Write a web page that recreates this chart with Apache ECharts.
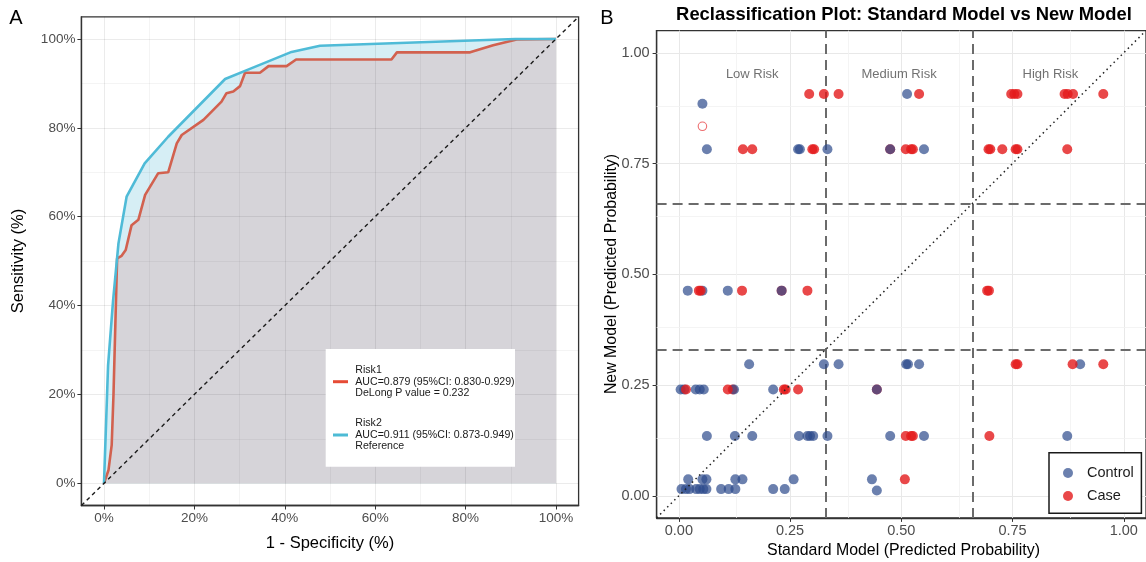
<!DOCTYPE html>
<html><head><meta charset="utf-8">
<script src="https://cdn.jsdelivr.net/npm/echarts@6/dist/echarts.min.js"></script>
<style>html,body{margin:0;padding:0;background:#fff}#c{width:1146px;height:562px}</style>
</head><body><div id="c"></div>
<script>
// ---------- Panel A: ROC curves ([1 - specificity %, sensitivity %]) ----------
const risk1Roc = [[0,0],[1,3],[1.7,8.6],[2.1,20],[2.9,50.6],[3.9,51.2],[4.8,52.5],[6.1,58.1],[7.6,59.3],[9.1,64.9],[12,69.8],[14.2,70],[16.1,76.5],[17.2,78.4],[22,81.8],[26,85.9],[27.1,87.8],[28.6,88.2],[30.1,89.4],[31.2,92.4],[34.5,92.4],[36.4,93.9],[40.4,93.9],[42.5,95.4],[63.6,95.4],[64.8,97],[81,97],[86.1,98.6],[91.3,99.9],[100,100]];
const risk2Roc = [[0,0],[0.9,26.5],[2,41],[3.2,54],[5,64.5],[9,72],[14.2,78],[26.8,91],[31.6,93],[41.5,97.1],[47.8,98.5],[91,100],[100,100]];
const rocTicks = [0,20,40,60,80,100];
const rocMinorTicks = [10,30,50,70,90];
const rocRange = [-5,105];
const risk1Legend = ['Risk1','AUC=0.879 (95%CI: 0.830-0.929)','DeLong P value = 0.232'];
const risk2Legend = ['Risk2','AUC=0.911 (95%CI: 0.873-0.949)','Reference'];

// ---------- Panel B: reclassification ([standard model, new model]) ----------
const controlPoints = [
 [0.513,0.907],
 [0.053,0.885],
 [0.063,0.782],[0.268,0.782],[0.272,0.782],[0.334,0.782],[0.475,0.782],[0.551,0.782],
 [0.020,0.463],[0.053,0.463],[0.110,0.463],[0.231,0.463],
 [0.158,0.297],[0.326,0.297],[0.359,0.297],[0.511,0.297],[0.515,0.297],[0.540,0.297],[0.902,0.297],
 [0.004,0.240],[0.012,0.240],[0.038,0.240],[0.047,0.240],[0.056,0.240],[0.124,0.240],[0.212,0.240],[0.445,0.240],
 [0.063,0.135],[0.126,0.135],[0.165,0.135],[0.270,0.135],[0.289,0.135],[0.295,0.135],[0.302,0.135],[0.334,0.135],[0.475,0.135],[0.551,0.135],[0.873,0.135],
 [0.021,0.037],[0.053,0.037],[0.062,0.037],[0.127,0.037],[0.143,0.037],[0.258,0.037],[0.434,0.037],
 [0.006,0.015],[0.016,0.015],[0.024,0.015],[0.039,0.015],[0.047,0.015],[0.055,0.015],[0.062,0.015],[0.095,0.015],[0.112,0.015],[0.127,0.015],[0.212,0.015],[0.238,0.015],[0.445,0.012]
];
const caseBehindPoints = [[0.475,0.782],[0.231,0.463],[0.121,0.240],[0.445,0.240]];
const casePoints = [
 [0.293,0.907],[0.326,0.907],[0.359,0.907],[0.540,0.907],[0.747,0.907],[0.754,0.907],[0.761,0.907],[0.867,0.907],[0.874,0.907],[0.886,0.907],[0.954,0.907],
 [0.144,0.782],[0.165,0.782],[0.300,0.782],[0.304,0.782],[0.510,0.782],[0.522,0.782],[0.526,0.782],[0.696,0.782],[0.700,0.782],[0.727,0.782],[0.757,0.782],[0.761,0.782],[0.873,0.782],
 [0.045,0.463],[0.049,0.463],[0.142,0.463],[0.289,0.463],[0.693,0.463],[0.697,0.463],
 [0.757,0.297],[0.761,0.297],[0.885,0.297],[0.954,0.297],
 [0.016,0.240],[0.110,0.240],[0.236,0.240],[0.240,0.240],[0.268,0.240],
 [0.510,0.135],[0.522,0.135],[0.526,0.135],[0.698,0.135],
 [0.508,0.037]
];
const caseOpenPoints = [[0.053,0.834]];
const riskCutoffs = [0.33, 0.66];
const zoneLabels = ['Low Risk','Medium Risk','High Risk'];
const zoneLabelX = [0.165, 0.495, 0.835];
const zoneLabelY = 0.95;
const probTicks = [0, 0.25, 0.5, 0.75, 1];
const probMinorTicks = [0.125, 0.375, 0.625, 0.875];
const probRange = [-0.05, 1.05];

// ---------- styling ----------
const FONT = '"Liberation Sans", Arial, sans-serif';
const chart = echarts.init(document.getElementById('c'), null, {renderer: 'canvas'});

function gridLineData(xs, ys, style) {
  return xs.map(v => ({xAxis: v, lineStyle: style})).concat(ys.map(v => ({yAxis: v, lineStyle: style})));
}
function axisCommon(ticks, fmt, fontSize, margin) {
  return {
    type: 'value',
    axisLine: {show: true, onZero: false, lineStyle: {color: '#333', width: 1.3}},
    axisTick: {show: true, customValues: ticks, length: 4, lineStyle: {color: '#333', width: 1}},
    axisLabel: {customValues: ticks, formatter: fmt, color: '#4d4d4d', fontSize: fontSize, fontFamily: FONT, margin: margin},
    splitLine: {show: false},
    minorSplitLine: {show: false}
  };
}

const option = {
  animation: false,
  backgroundColor: '#fff',
  grid: [
    {left: 81.4, top: 16.8, width: 497.2, height: 488.7, show: true, borderColor: '#333', borderWidth: 1.3, backgroundColor: 'transparent'},
    {left: 656.6, top: 30.6, width: 493.9, height: 487.3, show: true, borderColor: '#333', borderWidth: 1.3, backgroundColor: 'transparent'}
  ],
  xAxis: [
    Object.assign(axisCommon(rocTicks, v => v + '%', 13.5, 6), {gridIndex: 0, min: rocRange[0], max: rocRange[1]}),
    Object.assign(axisCommon(probTicks, v => v.toFixed(2), 14.5, 6), {gridIndex: 1, min: probRange[0], max: probRange[1]})
  ],
  yAxis: [
    Object.assign(axisCommon(rocTicks, v => v + '%', 13.5, 6), {gridIndex: 0, min: rocRange[0], max: rocRange[1]}),
    Object.assign(axisCommon(probTicks, v => v.toFixed(2), 14.5, 7), {gridIndex: 1, min: probRange[0], max: probRange[1]})
  ],
  legend: {
    data: ['Control', 'Case'], orient: 'vertical', left: 1063, top: 465.5, padding: 0,
    itemWidth: 10, itemHeight: 10, itemGap: 8, icon: 'circle', z: 20,
    textStyle: {fontSize: 14.5, color: '#1a1a1a', fontFamily: FONT, padding: [0, 0, 0, 9]},
    selectedMode: false
  },
  series: [
    // ---- Panel A ----
    {type: 'line', name: 'Risk2 area', xAxisIndex: 0, yAxisIndex: 0, data: risk2Roc, showSymbol: false, silent: true, z: 1,
     lineStyle: {width: 0, opacity: 0}, areaStyle: {color: '#d6eef5', opacity: 1}},
    {type: 'line', name: 'Risk1 area', xAxisIndex: 0, yAxisIndex: 0, data: risk1Roc, showSymbol: false, silent: true, z: 2,
     lineStyle: {width: 0, opacity: 0}, areaStyle: {color: '#d6d4d9', opacity: 1}},
    {type: 'line', name: 'gridA', xAxisIndex: 0, yAxisIndex: 0, data: [], silent: true, z: 3,
     markLine: {z: 3, silent: true, symbol: ['none','none'], label: {show: false}, animation: false,
       data: gridLineData(rocTicks, rocTicks, {color: 'rgba(0,0,0,0.08)', width: 1, type: 'solid'})
         .concat(gridLineData(rocMinorTicks, rocMinorTicks, {color: 'rgba(0,0,0,0.055)', width: 0.8, type: 'solid'}))}},
    {type: 'line', name: 'Risk1', xAxisIndex: 0, yAxisIndex: 0, data: risk1Roc, showSymbol: false, silent: true, z: 4,
     lineStyle: {color: '#d2614f', width: 2.6}},
    {type: 'line', name: 'Risk2', xAxisIndex: 0, yAxisIndex: 0, data: risk2Roc, showSymbol: false, silent: true, z: 5,
     lineStyle: {color: '#4fbbd7', width: 2.6},
     markLine: {z: 6, silent: true, symbol: ['none','none'], label: {show: false}, animation: false,
       lineStyle: {color: '#1a1a1a', width: 1.4, type: [4, 3.5]},
       data: [[{coord: [rocRange[0], rocRange[0]]}, {coord: [rocRange[1], rocRange[1]]}]]}},
    // ---- Panel B ----
    {type: 'line', name: 'gridB', xAxisIndex: 1, yAxisIndex: 1, data: [], silent: true, z: 1,
     markLine: {z: 1, silent: true, symbol: ['none','none'], label: {show: false}, animation: false,
       data: gridLineData(probTicks, probTicks, {color: '#e8e8e8', width: 1, type: 'solid'})
         .concat(gridLineData(probMinorTicks, probMinorTicks, {color: '#f1f1f1', width: 0.8, type: 'solid'}))}},
    {type: 'line', name: 'cutoffs', xAxisIndex: 1, yAxisIndex: 1, data: [], silent: true, z: 2,
     markLine: {z: 2, silent: true, symbol: ['none','none'], label: {show: false}, animation: false,
       lineStyle: {color: '#6b6b6b', width: 2, type: [10, 6]},
       data: gridLineData(riskCutoffs, riskCutoffs, {color: '#6b6b6b', width: 2, type: [10, 6]})}},
    {type: 'scatter', name: 'Case', xAxisIndex: 1, yAxisIndex: 1, data: caseBehindPoints, symbolSize: 10, z: 3, silent: true,
     itemStyle: {color: '#e41a1c', opacity: 0.8}},
    {type: 'scatter', name: 'Control', xAxisIndex: 1, yAxisIndex: 1, data: controlPoints, symbolSize: 10, z: 3, silent: true,
     itemStyle: {color: '#2c4a8c', opacity: 0.7}},
    {type: 'scatter', name: 'Case', xAxisIndex: 1, yAxisIndex: 1, data: casePoints, symbolSize: 10, z: 3, silent: true,
     itemStyle: {color: '#e41a1c', opacity: 0.8}},
    {type: 'scatter', name: 'Case open', xAxisIndex: 1, yAxisIndex: 1, data: caseOpenPoints, symbol: 'circle', symbolSize: 8.5, z: 3, silent: true,
     itemStyle: {color: '#ffffff', borderColor: '#e8474a', borderWidth: 1.1}},
    {type: 'line', name: 'diag', xAxisIndex: 1, yAxisIndex: 1, data: [], silent: true, z: 5,
     markLine: {z: 5, silent: true, symbol: ['none','none'], label: {show: false}, animation: false,
       lineStyle: {color: '#222', width: 1.5, type: [1.5, 3.5]},
       data: [[{coord: [probRange[0], probRange[0]]}, {coord: [probRange[1], probRange[1]]}]]}},
    {type: 'scatter', name: 'zones', xAxisIndex: 1, yAxisIndex: 1, silent: true, z: 4, symbolSize: 1,
     itemStyle: {color: 'rgba(0,0,0,0)'},
     data: zoneLabels.map((t, i) => [zoneLabelX[i], zoneLabelY, t]),
     label: {show: true, position: 'inside', formatter: p => p.data[2], color: '#4d4d4d', fontSize: 13, fontFamily: FONT}}
  ],
  graphic: [
    // panel tags and titles
    {type: 'text', x: 16, y: 18, z: 50, style: {text: 'A', font: '20px ' + FONT, fill: '#000', textAlign: 'center', textVerticalAlign: 'middle'}},
    {type: 'text', x: 607, y: 18, z: 50, style: {text: 'B', font: '20px ' + FONT, fill: '#000', textAlign: 'center', textVerticalAlign: 'middle'}},
    {type: 'text', x: 904, y: 15, z: 50, style: {text: 'Reclassification Plot: Standard Model vs New Model', font: 'bold 18.4px ' + FONT, fill: '#000', textAlign: 'center', textVerticalAlign: 'middle'}},
    {type: 'text', x: 330, y: 543, z: 50, style: {text: '1 - Specificity (%)', font: '16.5px ' + FONT, fill: '#000', textAlign: 'center', textVerticalAlign: 'middle'}},
    {type: 'text', x: 18, y: 261, z: 50, rotation: Math.PI / 2, style: {text: 'Sensitivity (%)', font: '16.5px ' + FONT, fill: '#000', textAlign: 'center', textVerticalAlign: 'middle'}},
    {type: 'text', x: 903.5, y: 551, z: 50, style: {text: 'Standard Model (Predicted Probability)', font: '15.9px ' + FONT, fill: '#000', textAlign: 'center', textVerticalAlign: 'middle'}},
    {type: 'text', x: 612, y: 274, z: 50, rotation: Math.PI / 2, style: {text: 'New Model (Predicted Probability)', font: '15.9px ' + FONT, fill: '#000', textAlign: 'center', textVerticalAlign: 'middle'}},
    // panel A legend box
    {type: 'rect', z: 50, shape: {x: 325.7, y: 349, width: 189.3, height: 117.7}, style: {fill: '#fff', stroke: null}},
    {type: 'line', z: 51, shape: {x1: 333, y1: 381.7, x2: 348, y2: 381.7}, style: {stroke: '#e64b35', lineWidth: 3}},
    {type: 'line', z: 51, shape: {x1: 333, y1: 435, x2: 348, y2: 435}, style: {stroke: '#4dbbd5', lineWidth: 3}},
    ...risk1Legend.map((t, i) => ({type: 'text', z: 51, x: 355.3, y: 370 + i * 11.7, style: {text: t, font: '10.6px ' + FONT, fill: '#1a1a1a', textAlign: 'left', textVerticalAlign: 'middle'}})),
    ...risk2Legend.map((t, i) => ({type: 'text', z: 51, x: 355.3, y: 423.3 + i * 11.5, style: {text: t, font: '10.6px ' + FONT, fill: '#1a1a1a', textAlign: 'left', textVerticalAlign: 'middle'}})),
    // panel B legend frame
    {type: 'rect', z: 5, shape: {x: 1049, y: 452.7, width: 92.4, height: 60.6}, style: {fill: '#fff', stroke: '#1a1a1a', lineWidth: 1.5}}
  ]
};
chart.setOption(option);
</script>
</body></html>
